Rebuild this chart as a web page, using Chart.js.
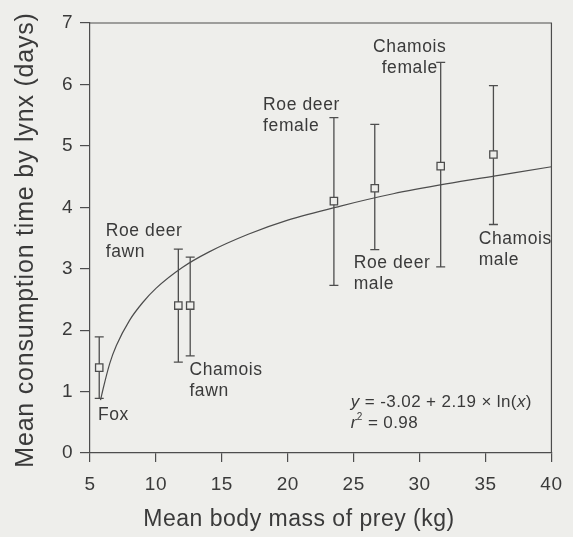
<!DOCTYPE html>
<html>
<head>
<meta charset="utf-8">
<script src="https://cdn.jsdelivr.net/npm/chart.js@4.4.0/dist/chart.umd.min.js"></script>
<style>
  html, body { margin: 0; padding: 0; background: #eeeeeb; }
  #wrap { width: 573px; height: 537px; }
</style>
</head>
<body>
<div id="wrap"><canvas id="chart" width="573" height="537"></canvas></div>
<script>
// prey groups
const preyLabels = [['Fox'], ['Roe deer', 'fawn'], ['Chamois', 'fawn'], ['Roe deer', 'female'],
                    ['Roe deer', 'male'], ['Chamois', 'female'], ['Chamois', 'male']];
const bodyMass  = [5.7, 11.7, 12.6, 23.5, 26.6, 31.6, 35.6];   // kg
const meanDays  = [1.39, 2.40, 2.40, 4.10, 4.31, 4.67, 4.86];
const lowerDays = [0.89, 1.48, 1.58, 2.73, 3.31, 3.03, 3.72];
const upperDays = [1.89, 3.32, 3.19, 5.46, 5.35, 6.36, 5.98];

// fitted curve as drawn in the figure
const fitMass = [5.8, 6.0, 6.5, 7, 8, 9, 10, 12, 14, 17, 20, 24, 28, 32, 36, 40];
const fitDays = [0.86, 1.05, 1.46, 1.75, 2.16, 2.45, 2.68, 3.02, 3.27, 3.56, 3.79, 4.02, 4.22, 4.38, 4.52, 4.66];

const xTickValues = [5, 10, 15, 20, 25, 30, 35, 40];
const yTickValues = [0, 1, 2, 3, 4, 5, 6, 7];

const xTitle = 'Mean body mass of prey (kg)';
const yTitle = 'Mean consumption time by lynx (days)';

const BG = '#eeeeeb';
const INK = '#3a3a3a';
const LINE = '#4d4d4d';
const FONT = '"Liberation Sans", Arial, Helvetica, sans-serif';

// where each group's label sits (data units) and how it is aligned
const labelPlace = [
  { x: 5.6,   y: 0.61, align: 'left' },
  { x: 6.19,  y: 3.61, align: 'left' },
  { x: 12.54, y: 1.35, align: 'left' },
  { x: 18.13, y: 5.66, align: 'left' },
  { x: 25.0,  y: 3.09, align: 'left' },
  { x: 29.25, y: 6.60, align: 'center' },
  { x: 34.48, y: 3.48, align: 'left' }
];

const decor = {
  id: 'decor',
  beforeDraw(chart) {
    const ctx = chart.ctx;
    ctx.save();
    ctx.fillStyle = BG;
    ctx.fillRect(0, 0, chart.width, chart.height);
    ctx.restore();
    ctx.letterSpacing = '0.5px';
  },
  beforeDatasetsDraw(chart) {
    // error bars
    const ctx = chart.ctx, xs = chart.scales.x, ys = chart.scales.y;
    ctx.save();
    ctx.strokeStyle = LINE;
    ctx.lineWidth = 1.3;
    bodyMass.forEach((m, i) => {
      const px = xs.getPixelForValue(m);
      const top = ys.getPixelForValue(upperDays[i]);
      const bot = ys.getPixelForValue(lowerDays[i]);
      ctx.beginPath();
      ctx.moveTo(px, top); ctx.lineTo(px, bot);
      ctx.moveTo(px - 4.5, top); ctx.lineTo(px + 4.5, top);
      ctx.moveTo(px - 4.5, bot); ctx.lineTo(px + 4.5, bot);
      ctx.stroke();
    });
    ctx.restore();
  },
  afterDraw(chart) {
    const ctx = chart.ctx, xs = chart.scales.x, ys = chart.scales.y;
    const a = chart.chartArea;
    ctx.save();
    // frame top and right
    ctx.strokeStyle = LINE;
    ctx.lineWidth = 1.2;
    ctx.beginPath();
    ctx.moveTo(a.left, a.top); ctx.lineTo(a.right, a.top); ctx.lineTo(a.right, a.bottom);
    ctx.stroke();

    ctx.fillStyle = INK;
    ctx.textBaseline = 'middle';
    // group labels
    ctx.font = '17.5px ' + FONT;
    ctx.letterSpacing = '0.6px';
    preyLabels.forEach((lines, i) => {
      const p = labelPlace[i];
      const px = xs.getPixelForValue(p.x);
      const py = ys.getPixelForValue(p.y);
      ctx.textAlign = p.align;
      lines.forEach((t, k) => ctx.fillText(t, px, py + k * 21));
    });

    // regression equation
    ctx.textAlign = 'left';
    ctx.letterSpacing = '0.4px';
    let ex = xs.getPixelForValue(24.78);
    const ey = ys.getPixelForValue(0.82);
    const seg = [['y', true], [' = -3.02 + 2.19 \u00d7 ln(', false], ['x', true], [')', false]];
    seg.forEach(([t, it]) => {
      ctx.font = (it ? 'italic ' : '') + '17px ' + FONT;
      ctx.fillText(t, ex, ey);
      ex += ctx.measureText(t).width;
    });
    let rx = xs.getPixelForValue(24.78);
    const ry = ey + 21;
    ctx.font = 'italic 17px ' + FONT;
    ctx.fillText('r', rx, ry);
    rx += ctx.measureText('r').width;
    ctx.font = '10px ' + FONT;
    ctx.fillText('2', rx, ry - 6);
    rx += ctx.measureText('2').width;
    ctx.font = '17px ' + FONT;
    ctx.fillText(' = 0.98', rx, ry);

    // axis titles
    ctx.textAlign = 'center';
    ctx.font = '23px ' + FONT;
    ctx.letterSpacing = '0.5px';
    ctx.fillText(xTitle, 299, 520);
    ctx.translate(26, 240);
    ctx.rotate(-Math.PI / 2);
    ctx.font = '25px ' + FONT;
    ctx.letterSpacing = '0.8px';
    ctx.fillText(yTitle, 0, 0);
    ctx.restore();
  }
};

new Chart(document.getElementById('chart'), {
  type: 'scatter',
  data: {
    datasets: [
      {
        label: 'Mean',
        data: bodyMass.map((m, i) => ({ x: m, y: meanDays[i] })),
        pointStyle: 'rect',
        pointRadius: 5.2,
        pointHoverRadius: 5.2,
        pointBackgroundColor: BG,
        pointBorderColor: LINE,
        pointBorderWidth: 1.3
      },
      {
        label: 'Fit',
        data: fitMass.map((m, i) => ({ x: m, y: fitDays[i] })),
        showLine: true,
        borderColor: LINE,
        borderWidth: 1.2,
        pointRadius: 0,
        cubicInterpolationMode: 'monotone'
      }
    ]
  },
  options: {
    responsive: false,
    devicePixelRatio: 1,
    animation: false,
    layout: { padding: { left: 0, top: 23, right: 14, bottom: 0 } },
    plugins: { legend: { display: false }, tooltip: { enabled: false } },
    scales: {
      x: {
        type: 'linear', min: 5, max: 40,
        afterBuildTicks: s => { s.ticks = xTickValues.map(v => ({ value: v })); },
        afterFit: s => { s.height = 84; },
        grid: { drawOnChartArea: false, drawTicks: true, tickLength: 9, color: LINE, lineWidth: 1.2 },
        border: { display: true, color: LINE, width: 1.2 },
        ticks: { color: INK, padding: 11, maxRotation: 0, font: { family: FONT, size: 19 } },
        title: { display: false }
      },
      y: {
        type: 'linear', min: 0, max: 7,
        afterBuildTicks: s => { s.ticks = yTickValues.map(v => ({ value: v })); },
        afterFit: s => { s.width = 90; },
        grid: { drawOnChartArea: false, drawTicks: true, tickLength: 10, color: LINE, lineWidth: 1.2 },
        border: { display: true, color: LINE, width: 1.2 },
        ticks: { color: INK, padding: 7, font: { family: FONT, size: 19 } },
        title: { display: false }
      }
    }
  },
  plugins: [decor]
});
</script>
</body>
</html>
